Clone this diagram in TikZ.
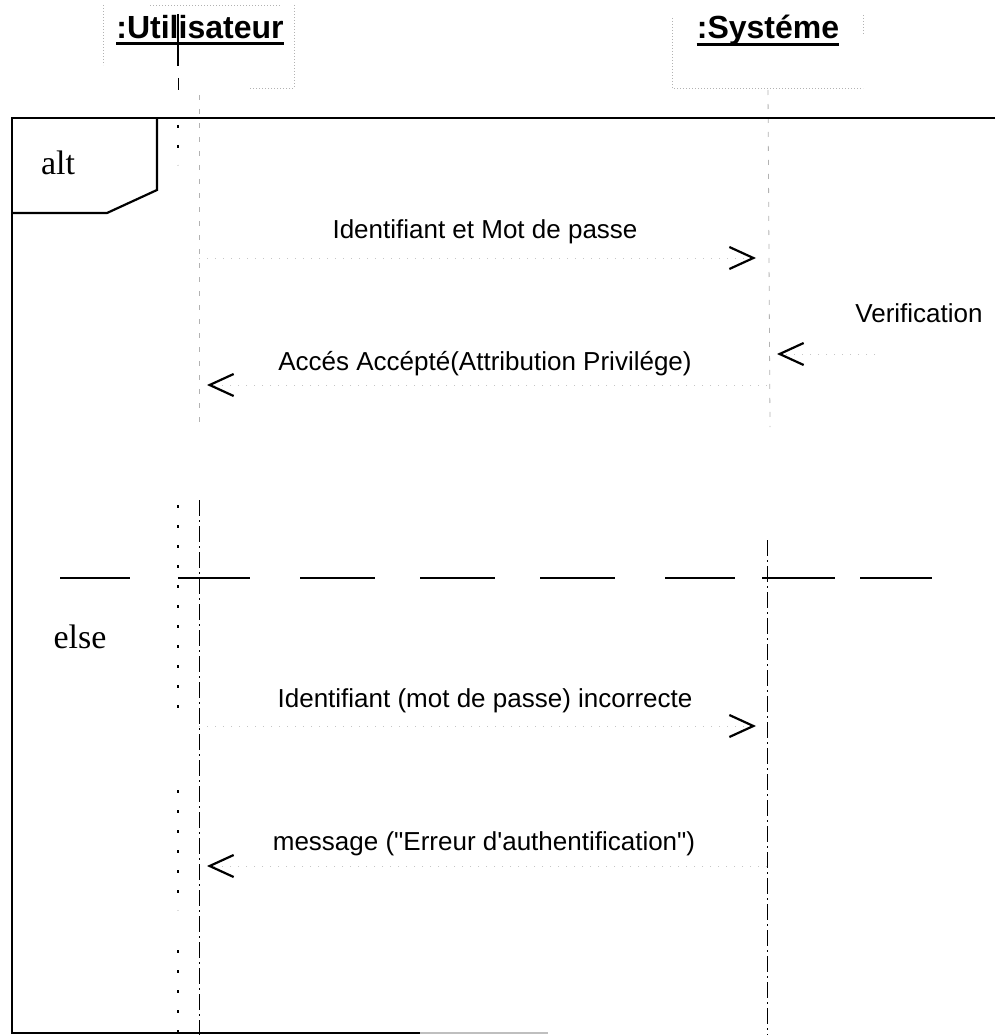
\documentclass[tikz,border=0pt]{standalone}
\usepackage{fontspec}
\setmainfont{Liberation Serif}
\setsansfont{Liberation Sans}[Ligatures=TeXOff]
\usetikzlibrary{arrows.meta}

\begin{document}
\begin{tikzpicture}[x=1pt,y=-1pt,
  msg/.style={font=\sffamily\fontsize{26}{30}\selectfont, inner sep=0pt, anchor=base},
  head/.style={font=\sffamily\bfseries\fontsize{32}{36}\selectfont, inner sep=0pt, anchor=base},
  kw/.style={font=\rmfamily\fontsize{34}{40}\selectfont, inner sep=0pt, anchor=base},
  frameline/.style={line width=2.2pt, black},
  sepline/.style={line width=2.5pt, black},
  call/.style={draw=gray!45, line width=0.8pt, dash pattern=on 1pt off 7pt,
    -{Straight Barb[length=24pt,width=22pt,line width=2.2pt,color=black]}},
  faintlife/.style={draw=gray!60, line width=0.8pt, dash pattern=on 5pt off 9pt},
  lifeline/.style={draw=black, line width=0.8pt, dash pattern=on 16pt off 4pt on 2pt off 4pt},
  specks/.style={draw=black, line width=1.6pt, dash pattern=on 3pt off 17pt},
  headbox/.style={draw=gray!60, line width=0.6pt, dash pattern=on 1pt off 2pt},
]
\useasboundingbox (0,0) rectangle (995,1035);

% ---- object heads ----
\node[head] (hu) at (200,39) {:Utilisateur};
\draw[line width=3pt] ([yshift=-5pt]hu.base west) -- ([yshift=-5pt]hu.base east);
\draw[headbox] (103,5) -- (103,65);
\draw[headbox] (150,5) -- (280,5);
\draw[headbox] (294,5) -- (294,88) -- (250,88);
\draw[line width=2.5pt] (178,14) -- (178,66);
\draw[line width=1pt] (178,78) -- (178,90);

\node[head] (hs) at (768,39) {:Systéme};
\draw[line width=3pt] ([yshift=-6pt]hs.base west) -- ([yshift=-6pt]hs.base east);
\draw[headbox] (672,18) -- (672,88) -- (863,88);
\draw[headbox] (863,15) -- (863,35);

% ---- lifelines ----
\coordinate (uTop) at (199,95);
\coordinate (uMid) at (199,430);
\coordinate (uLow) at (199,500);
\coordinate (uBot) at (199,1035);
\coordinate (sTop) at (768,90);
\coordinate (sMid) at (770,427);
\coordinate (sLow) at (767,540);
\coordinate (sBot) at (767,1035);
\draw[faintlife] (uTop) -- (uMid);
\draw[lifeline] (uLow) -- (uBot);
\draw[faintlife] (sTop) -- (sMid);
\draw[lifeline] (sLow) -- (sBot);
% broken marks left of the user lifeline
\foreach \a/\b in {125/165,505/720,790/910,950/1035}
  \draw[specks] (178,\a) -- (178,\b);

% ---- combined fragment ----
\draw[frameline] (995,118) -- (12,118) -- (12,1033) -- (420,1033);
\draw[line width=2pt, gray!50] (420,1033) -- (548,1033);
\draw[frameline] (157,118) -- (157,190) -- (107,213) -- (12,213);
\node[kw] (alt) at (58,175) {alt};
\foreach \a/\b in {60/130,178/250,300/375,420/495,540/615,665/735,762/835,860/932}
  \draw[sepline] (\a,578) -- (\b,578);
\node[kw] (else) at (80,648) {else};

% ---- messages ----
\coordinate (m1u) at (199,258);
\coordinate (m1s) at (767,258);
\coordinate (m2u) at (199,385);
\coordinate (m2s) at (767,385);
\coordinate (vS) at (875,354);
\coordinate (vL) at (767,354);
\coordinate (m4u) at (199,726);
\coordinate (m4s) at (767,726);
\coordinate (m5u) at (199,866);
\coordinate (m5s) at (767,866);

\node[msg] (l1) at (485,238) {Identifiant et Mot de passe};
\draw[call, shorten >=11pt] (m1u) -- (m1s);

\node[msg] (l2) at (485,370) {Accés Accépté(Attribution Privilége)};
\draw[call, shorten >=8pt] (m2s) -- (m2u);

\node[msg] (lv) at (919,322) {Verification};
\draw[call, shorten >=10pt] (vS) -- (vL);

\node[msg] (l4) at (485,707) {Identifiant (mot de passe) incorrecte};
\draw[call, shorten >=11pt] (m4u) -- (m4s);

\node[msg] (l5) at (484,850) {message ("Erreur d'authentification")};
\draw[call, shorten >=8pt] (m5s) -- (m5u);
\end{tikzpicture}
\end{document}
